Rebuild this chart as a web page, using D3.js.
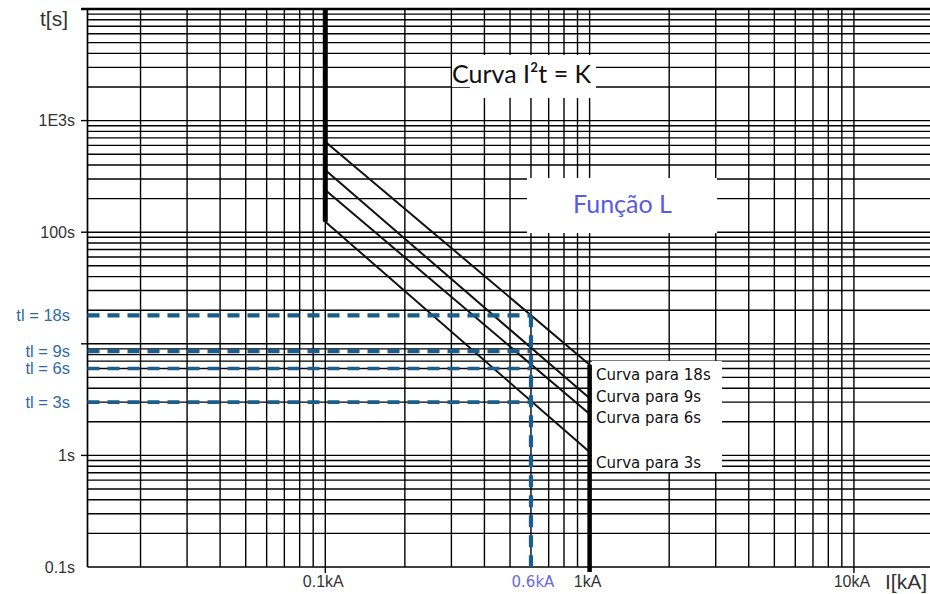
<!DOCTYPE html>
<html>
<head>
<meta charset="utf-8">
<script src="https://cdn.jsdelivr.net/npm/d3@7"></script>
<style>
  body { margin: 0; background: #fff; }
  svg { display: block; }
</style>
</head>
<body>
<div id="chart"></div>
<script>
// current axis (kA) and time axis (s)
const currentDomain = [0.0126, 19.4];
const timeDomain = [0.1, 10000];

const xTickValues = [0.1, 1, 10];
const xTickLabels = ['0.1kA', '1kA', '10kA'];
const yTickValues = [0.1, 1, 100, 1000];
const yTickLabels = ['0.1s', '1s', '100s', '1E3s'];

// long-time settings
const tlValues = [18, 8.6, 6, 3];
const tlLabels = ['tl = 18s', 'tl = 9s', 'tl = 6s', 'tl = 3s'];

// I2t curves, time read at 0.1kA and 1kA
const curveNames = ['Curva para 18s', 'Curva para 9s', 'Curva para 6s', 'Curva para 3s'];
const curveStartI = 0.1;
const curveEndI = 1;
const curveStartT = [647, 360, 239, 124];
const curveEndT = [6.5, 3.25, 2.35, 1.07];

const faultCurrent = 0.6;
const faultLabel = '0.6kA';

const width = 930, height = 594;

const svg = d3.select('#chart')
    .append('svg')
    .attr('width', width)
    .attr('height', height);

const x = d3.scaleLog().domain(currentDomain).range([87.5, 930]);
const y = d3.scaleLog().domain(timeDomain).range([567, 9]);

const left = x(currentDomain[0]);
const right = 930;

// grid
const grid = svg.append('g')
    .attr('stroke', '#000')
    .attr('stroke-width', 1.4);

grid.selectAll('.vgrid')
    .data(x.ticks())
    .enter().append('line')
    .attr('x1', d => x(d)).attr('x2', d => x(d))
    .attr('y1', y(timeDomain[1])).attr('y2', y(timeDomain[0]));

grid.selectAll('.hgrid')
    .data(y.ticks())
    .enter().append('line')
    .attr('x1', left).attr('x2', right)
    .attr('y1', d => y(d)).attr('y2', d => y(d));

// border
grid.append('line')
    .attr('x1', left).attr('x2', left)
    .attr('y1', y(timeDomain[1])).attr('y2', y(timeDomain[0]))
    .attr('stroke-width', 1.7);
grid.append('line')
    .attr('x1', 81).attr('x2', right)
    .attr('y1', y(timeDomain[1])).attr('y2', y(timeDomain[1]))
    .attr('stroke-width', 2.6);

// tick marks
svg.append('g')
    .attr('stroke', '#000')
    .attr('stroke-width', 1.4)
    .selectAll('line')
    .data([1, 10, 100, 1000])
    .enter().append('line')
    .attr('x1', 81).attr('x2', left)
    .attr('y1', d => y(d)).attr('y2', d => y(d));

svg.append('g')
    .attr('stroke', '#000')
    .attr('stroke-width', 1.4)
    .selectAll('line')
    .data([0.1, 10])
    .enter().append('line')
    .attr('x1', d => x(d)).attr('x2', d => x(d))
    .attr('y1', y(timeDomain[0])).attr('y2', y(timeDomain[0]) + 6);

// white label boxes over the grid
const boxes = [
    [452, 55, 144, 32],
    [470, 55, 126, 43],
    [527, 178, 190, 55],
    [592, 361, 130, 111]
];
svg.append('g')
    .selectAll('rect')
    .data(boxes)
    .enter().append('rect')
    .attr('x', d => d[0]).attr('y', d => d[1])
    .attr('width', d => d[2]).attr('height', d => d[3])
    .attr('fill', '#fff');

// curves
svg.append('g')
    .selectAll('line')
    .data(curveStartT)
    .enter().append('line')
    .attr('x1', x(curveStartI))
    .attr('y1', d => y(d))
    .attr('x2', x(curveEndI))
    .attr('y2', (d, i) => y(curveEndT[i]))
    .attr('stroke', '#111')
    .attr('stroke-width', 2);

// thick limits
svg.append('line')
    .attr('x1', x(curveStartI)).attr('x2', x(curveStartI))
    .attr('y1', y(timeDomain[1])).attr('y2', y(d3.min(curveStartT)))
    .attr('stroke', '#000')
    .attr('stroke-width', 5);

svg.append('line')
    .attr('x1', x(curveEndI)).attr('x2', x(curveEndI))
    .attr('y1', y(d3.max(curveEndT))).attr('y2', y(timeDomain[0]) + 5)
    .attr('stroke', '#000')
    .attr('stroke-width', 4.5);

// dashed construction lines
const dashColor = '#1b5e8c';
svg.append('g')
    .selectAll('line')
    .data(tlValues)
    .enter().append('line')
    .attr('x1', left)
    .attr('x2', x(faultCurrent))
    .attr('y1', d => y(d)).attr('y2', d => y(d))
    .attr('stroke', dashColor)
    .attr('stroke-width', (d, i) => i < 2 ? 4.3 : 3.6)
    .attr('stroke-dasharray', '12,8');

svg.append('line')
    .attr('x1', x(faultCurrent)).attr('x2', x(faultCurrent))
    .attr('y1', y(d3.max(tlValues))).attr('y2', y(timeDomain[0]))
    .attr('stroke', dashColor)
    .attr('stroke-width', 4.2)
    .attr('stroke-dasharray', '12,8');

// axis labels
const axisFont = '"Liberation Sans", Arial, sans-serif';

svg.append('g')
    .selectAll('text')
    .data(yTickValues)
    .enter().append('text')
    .attr('x', 75)
    .attr('y', d => y(d))
    .attr('dy', '0.35em')
    .attr('text-anchor', 'end')
    .style('font-family', axisFont)
    .style('font-size', '16px')
    .style('fill', '#333')
    .text((d, i) => yTickLabels[i]);

svg.append('g')
    .selectAll('text')
    .data(xTickValues)
    .enter().append('text')
    .attr('x', d => x(d) - 2)
    .attr('y', 587)
    .attr('text-anchor', 'middle')
    .style('font-family', axisFont)
    .style('font-size', '16px')
    .style('fill', '#333')
    .text((d, i) => xTickLabels[i]);

svg.append('text')
    .attr('x', 40).attr('y', 26)
    .style('font-family', axisFont)
    .style('font-size', '21px')
    .style('fill', '#333')
    .text('t[s]');

svg.append('text')
    .attr('x', 885).attr('y', 589)
    .style('font-family', axisFont)
    .style('font-size', '21px')
    .style('fill', '#333')
    .text('I[kA]');

// tl labels
svg.append('g')
    .selectAll('text')
    .data(tlValues)
    .enter().append('text')
    .attr('x', 70)
    .attr('y', d => y(d))
    .attr('dy', '0.35em')
    .attr('text-anchor', 'end')
    .style('font-family', axisFont)
    .style('font-size', '16.5px')
    .style('fill', '#2f6aa8')
    .text((d, i) => tlLabels[i]);

svg.append('text')
    .attr('x', x(faultCurrent) + 2)
    .attr('y', 587)
    .attr('text-anchor', 'middle')
    .style('font-family', '"DejaVu Sans", Verdana, sans-serif')
    .style('font-size', '15px')
    .style('fill', '#6a6ae0')
    .text(faultLabel);

// curve labels
const curveLabelY = [375, 397, 418, 463];
svg.append('g')
    .selectAll('text')
    .data(curveNames)
    .enter().append('text')
    .attr('x', 596)
    .attr('y', (d, i) => curveLabelY[i])
    .attr('dy', '0.35em')
    .style('font-family', '"DejaVu Sans", Verdana, sans-serif')
    .style('font-size', '15px')
    .style('fill', '#111')
    .text(d => d);

svg.append('text')
    .attr('x', 452).attr('y', 83)
    .style('font-family', 'Lato, "Open Sans", sans-serif')
    .style('font-size', '25px')
    .style('fill', '#111')
    .text('Curva I²t = K');

svg.append('text')
    .attr('x', 573).attr('y', 213)
    .style('font-family', 'Lato, "Open Sans", sans-serif')
    .style('font-size', '25px')
    .style('fill', '#5a5ae6')
    .text('Função L');
</script>
</body>
</html>
